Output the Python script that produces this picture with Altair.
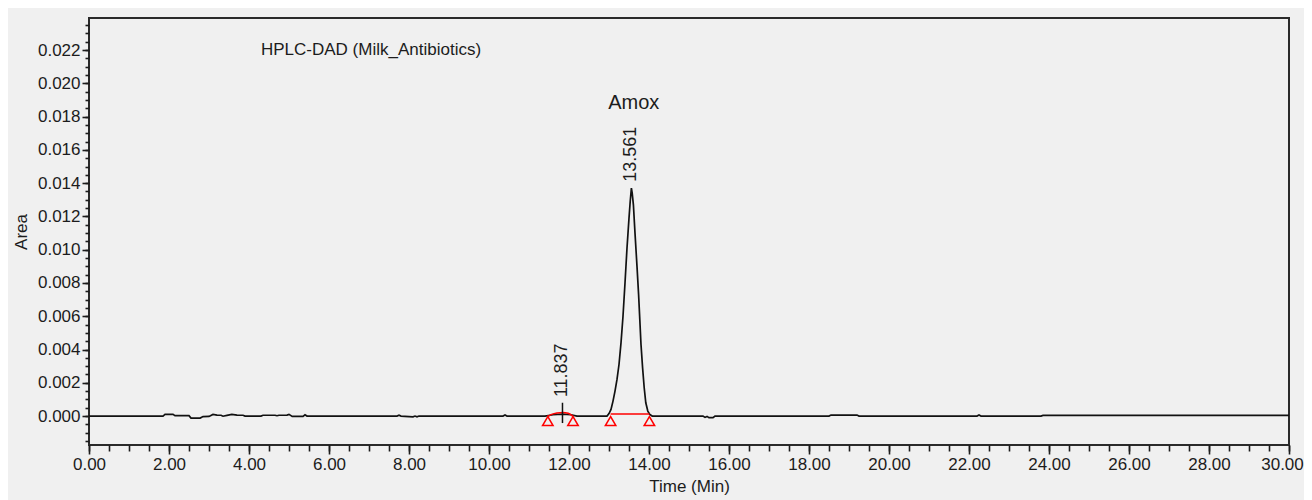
import altair as alt
import pandas as pd

# ---- chromatogram trace (time in min, area) ----
time = [0.0, 1.85, 1.9, 2.1, 2.15, 2.5, 2.55, 2.78, 2.85, 3.0, 3.1, 3.2, 3.3, 3.35, 3.45,
        3.57, 3.7, 3.85, 3.9, 4.3, 4.35, 4.65, 4.7, 4.75, 4.95, 5.0, 5.08, 5.35, 5.4, 5.45,
        7.7, 7.75, 7.8, 8.1, 8.15, 8.2, 8.25, 10.35, 10.4, 10.45, 11.4, 11.6, 11.84, 12.05,
        12.2, 12.95, 13.0, 13.05, 13.1, 13.15, 13.2, 13.25, 13.3, 13.35, 13.4, 13.45, 13.5,
        13.53, 13.56, 13.58, 13.61, 13.65, 13.7, 13.74, 13.77, 13.8, 13.84, 13.88, 13.92,
        13.97, 14.02, 14.08, 15.35, 15.4, 15.45, 15.5, 15.6, 15.65, 18.5, 18.55, 19.2, 19.25,
        22.2, 22.25, 22.3, 23.8, 23.85, 30.0]
area = [0.0, 0.0, 0.0001, 0.0001, 0.00002, 0.00002, -0.00012, -0.00012, -0.00003, -0.00002,
        0.0001, 0.00006, 0.00005, -0.00001, 0.00004, 0.0001, 0.00006, 0.00005, 0.0, 0.0,
        0.00005, 0.00005, 0.00002, 0.00005, 0.00006, 0.0001, -0.00002, -0.00002, 0.00008, 0.0,
        0.0, 0.00005, 0.0, -0.00005, 0.0, -0.00005, 0.0, 0.0, 0.00006, 0.0, 0.0, 0.00008,
        0.00012, 0.00008, 0.0, 0.0, 0.00015, 0.0004, 0.0009, 0.0015, 0.0022, 0.0031, 0.0044,
        0.0060, 0.0080, 0.0101, 0.0119, 0.0129, 0.0137, 0.0134, 0.0127, 0.0110, 0.0090,
        0.0073, 0.0058, 0.0043, 0.0029, 0.0017, 0.0008, 0.0003, 0.0001, 0.0, 0.0, -0.00008,
        -0.00002, -0.0001, -0.0001, 0.0, 0.0, 0.00006, 0.00006, 0.0, 0.0, 0.00006, 0.0, 0.0,
        0.00004, 0.00004]

# ---- integration baselines (red) ----
arc_t = [11.47, 11.55, 11.7, 11.84, 11.98, 12.1]
arc_a = [-0.00002, 0.00009, 0.00018, 0.00022, 0.00017, -0.00002]
base_t = [13.04, 14.01]
base_a = [0.00012, 0.00012]

# ---- peak start/end markers ----
marker_t = [11.47, 12.1, 13.04, 14.01]
marker_a = [-0.0003, -0.0003, -0.0003, -0.0003]

# ---- retention time labels ----
rt_values = [11.837, 13.561]
rt_labels = ["11.837", "13.561"]
rt_label_a = [0.00114, 0.01409]
cross_lo = [-0.00042]
cross_hi = [0.0008]

peak_names = ["Amox"]
peak_name_t = [13.62]
peak_name_a = [0.0188]

title_text = ["HPLC-DAD (Milk_Antibiotics)"]
title_t = [4.3]
title_a = [0.022]

x_ticks = [0, 2, 4, 6, 8, 10, 12, 14, 16, 18, 20, 22, 24, 26, 28, 30]
y_ticks = [0.0, 0.002, 0.004, 0.006, 0.008, 0.010, 0.012, 0.014, 0.016, 0.018, 0.020, 0.022]
x_minor = [round(i * 0.5, 2) for i in range(0, 61)]
y_minor = [round(-0.0015 + i * 0.0005, 5) for i in range(0, 51)]

FONT = "Liberation Sans"
INK = "#1c1c1c"

x_scale = alt.Scale(domain=[0, 30], nice=False, zero=False)
y_scale = alt.Scale(domain=[-0.00174, 0.02393], nice=False, zero=False)

major_x = alt.Axis(values=x_ticks, format=".2f", orient="bottom", tickSize=9, tickWidth=1.6,
                   tickColor=INK, labelFontSize=17, labelFont=FONT, labelColor=INK,
                   labelPadding=2, domain=False, grid=False, title="Time (Min)",
                   titleFont=FONT, titleFontSize=17, titleFontWeight="normal",
                   titleColor=INK, titlePadding=6, labelFlush=False, zindex=1,
                   labelOffset={"condition": {"test": "datum.value >= 30", "value": -7},
                                "value": 0})
major_y = alt.Axis(values=y_ticks, format=".3f", orient="left", tickSize=7, tickWidth=1.6,
                   tickColor=INK, labelFontSize=17, labelFont=FONT, labelColor=INK,
                   labelPadding=2, domain=False, grid=False, title="Area",
                   titleFont=FONT, titleFontSize=17, titleFontWeight="normal",
                   titleColor=INK, titlePadding=7, labelFlush=False, zindex=1)
minor_x = alt.Axis(values=x_minor, orient="bottom", tickSize=6, tickWidth=1.6, tickColor=INK,
                   labels=False, domain=False, grid=False, title=None, zindex=1)
minor_y = alt.Axis(values=y_minor, orient="left", tickSize=4, tickWidth=1.6, tickColor=INK,
                   labels=False, domain=False, grid=False, title=None, zindex=1)

df_line = pd.DataFrame({"t": time, "a": area})
df_arc = pd.DataFrame({"t": arc_t, "a": arc_a})
df_base = pd.DataFrame({"t": base_t, "a": base_a})
df_mark = pd.DataFrame({"t": marker_t, "a": marker_a})
df_rt = pd.DataFrame({"t": rt_values, "a": rt_label_a, "label": rt_labels})
df_cross = pd.DataFrame({"t": [rt_values[0]], "lo": cross_lo, "hi": cross_hi})
df_name = pd.DataFrame({"t": peak_name_t, "a": peak_name_a, "label": peak_names})
df_title = pd.DataFrame({"t": title_t, "a": title_a, "label": title_text})

line = alt.Chart(df_line).mark_line(color="#111111", strokeWidth=1.7).encode(
    x=alt.X("t:Q", scale=x_scale, axis=major_x),
    y=alt.Y("a:Q", scale=y_scale, axis=major_y),
)

base = alt.Chart(df_base).mark_line(color="#ff0000", strokeWidth=1.5).encode(
    x=alt.X("t:Q", scale=x_scale, axis=minor_x),
    y=alt.Y("a:Q", scale=y_scale, axis=minor_y),
)

arc = alt.Chart(df_arc).mark_line(color="#ff0000", strokeWidth=1.5, interpolate="monotone").encode(
    x=alt.X("t:Q", scale=x_scale, axis=None),
    y=alt.Y("a:Q", scale=y_scale, axis=None),
)

markers = alt.Chart(df_mark).mark_point(shape="triangle-up", filled=False, color="#ff0000",
                                         size=110, strokeWidth=1.5, opacity=1).encode(
    x=alt.X("t:Q", scale=x_scale, axis=None),
    y=alt.Y("a:Q", scale=y_scale, axis=None),
)

cross = alt.Chart(df_cross).mark_rule(color="#111111", strokeWidth=1.5).encode(
    x=alt.X("t:Q", scale=x_scale, axis=None),
    y=alt.Y("lo:Q", scale=y_scale, axis=None),
    y2="hi:Q",
)

rt_text = alt.Chart(df_rt).mark_text(angle=270, align="left", baseline="middle",
                                      font=FONT, fontSize=18, color=INK).encode(
    x=alt.X("t:Q", scale=x_scale, axis=None),
    y=alt.Y("a:Q", scale=y_scale, axis=None),
    text="label:N",
)

name_text = alt.Chart(df_name).mark_text(align="center", baseline="middle",
                                          font=FONT, fontSize=20, color=INK).encode(
    x=alt.X("t:Q", scale=x_scale, axis=None),
    y=alt.Y("a:Q", scale=y_scale, axis=None),
    text="label:N",
)

title = alt.Chart(df_title).mark_text(align="left", baseline="middle",
                                       font=FONT, fontSize=17, color=INK).encode(
    x=alt.X("t:Q", scale=x_scale, axis=None),
    y=alt.Y("a:Q", scale=y_scale, axis=None),
    text="label:N",
)

chart = alt.layer(line, base, arc, markers, cross, rt_text, name_text, title).resolve_axis(
    x="independent", y="independent"
).properties(
    width=1200,
    height=427,
    padding={"left": 81, "top": 10, "right": 15, "bottom": 55},
    autosize=alt.AutoSizeParams(type="none"),
    background="#f0f0f0",
).configure_view(
    stroke="#2a2a2a",
    strokeWidth=2,
    fill="#f0f0f0",
)

chart.save("out.html", embed_options={"renderer": "svg", "actions": False})
